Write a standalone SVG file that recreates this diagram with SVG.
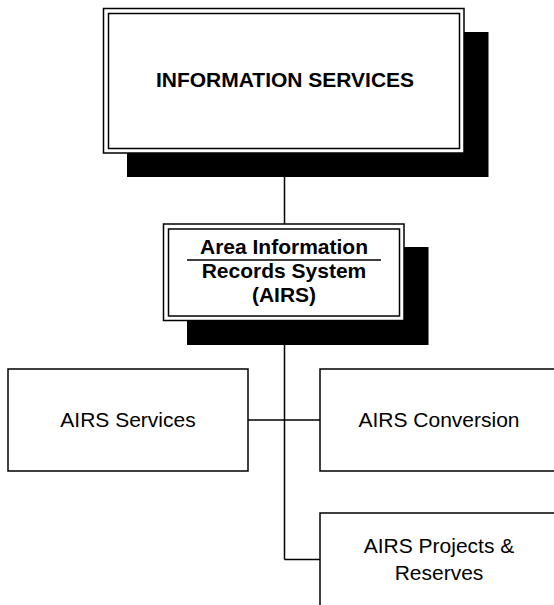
<svg xmlns="http://www.w3.org/2000/svg" width="554" height="605" viewBox="0 0 554 605">
<style>
.shadow{fill:#000;stroke:none}
.box{fill:#fff;stroke:#000;stroke-width:1.5}
.inner{fill:none;stroke:#000;stroke-width:1.5}
.conn{fill:none;stroke:#000;stroke-width:1.5}
.b{font-family:"Liberation Sans",Arial,sans-serif;font-weight:bold;font-size:21px;text-anchor:middle;fill:#000}
.r{font-family:"Liberation Sans",Arial,sans-serif;font-size:21px;text-anchor:middle;fill:#000}
</style>
<rect width="554" height="605" fill="#fff"/>
<g id="connectors">
<line class="conn" x1="284.5" y1="176" x2="284.5" y2="224"/>
<line class="conn" x1="284.5" y1="345" x2="284.5" y2="559.5"/>
<line class="conn" x1="248" y1="420" x2="320" y2="420"/>
<line class="conn" x1="284.5" y1="559.5" x2="320" y2="559.5"/>
</g>
<g id="information-services">
<rect class="shadow" x="127" y="32" width="361.5" height="145"/>
<rect class="box" x="103.5" y="8.5" width="360.5" height="144.5"/>
<rect class="inner" x="108.5" y="13.5" width="351" height="135"/>
<text class="b" x="285" y="87">INFORMATION SERVICES</text>
</g>
<g id="airs">
<rect class="shadow" x="187" y="247" width="241.5" height="98"/>
<rect class="box" x="163.5" y="224" width="240.5" height="96.5"/>
<rect class="inner" x="168.5" y="229" width="231" height="87"/>
<text class="b" x="284" y="254">Area Information</text>
<line x1="187" y1="260" x2="381" y2="260" stroke="#000" stroke-width="1.5"/>
<text class="b" x="284" y="278">Records System</text>
<text class="b" x="284" y="302">(AIRS)</text>
</g>
<g id="airs-services">
<rect class="box" x="8" y="369" width="240" height="102"/>
<text class="r" x="128" y="427">AIRS Services</text>
</g>
<g id="airs-conversion">
<rect class="box" x="320" y="369" width="240" height="102"/>
<text class="r" x="439" y="427">AIRS Conversion</text>
</g>
<g id="airs-projects">
<rect class="box" x="320" y="513" width="240" height="102"/>
<text class="r" x="439" y="553">AIRS Projects &amp;</text>
<text class="r" x="439" y="580">Reserves</text>
</g>
</svg>
